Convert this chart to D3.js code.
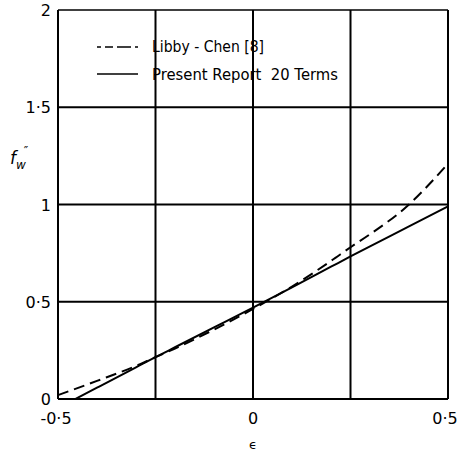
<!DOCTYPE html>
<html><head><meta charset="utf-8">
<script src="https://cdn.jsdelivr.net/npm/d3@7"></script>
<style>body{margin:0;background:#fff}svg{display:block}</style>
</head><body>
<script>
const xTicks = [-0.5, -0.25, 0, 0.25, 0.5];
const yTicks = [0, 0.5, 1, 1.5, 2];
const xTickLabels = ["-0·5", "", "0", "", "0·5"];
const yTickLabels = ["0", "0·5", "1", "1·5", "2"];
const presentEps = [-0.455, -0.4, -0.3, -0.25, -0.2, -0.1, 0, 0.1, 0.2, 0.25, 0.3, 0.4, 0.5];
const presentVal = [0, 0.058, 0.163, 0.215, 0.266, 0.368, 0.47, 0.574, 0.68, 0.733, 0.785, 0.887, 0.99];
const libbyEps = [-0.5, -0.4, -0.3, -0.25, -0.2, -0.1, 0, 0.1, 0.2, 0.25, 0.3, 0.4, 0.45, 0.5];
const libbyVal = [0.02, 0.093, 0.17, 0.215, 0.259, 0.357, 0.463, 0.578, 0.71, 0.78, 0.847, 1.0, 1.1, 1.21];
const legendLabels = ["Libby - Chen [8]", "Present Report  20 Terms"];

const W = 457, H = 454;
const svg = d3.select("body").append("svg").attr("width", W).attr("height", H);
const x = d3.scaleLinear().domain([-0.5, 0.5]).range([58, 448]);
const y = d3.scaleLinear().domain([0, 2]).range([399, 10]);
const font = "'DejaVu Sans', sans-serif";

// grid
const g = svg.append("g");
xTicks.forEach(t => g.append("line").attr("x1", x(t)).attr("x2", x(t)).attr("y1", y(0)).attr("y2", y(2))
  .attr("stroke", "#000").attr("stroke-width", 2));
yTicks.forEach(t => g.append("line").attr("x1", x(-0.5)).attr("x2", x(0.5)).attr("y1", y(t)).attr("y2", y(t))
  .attr("stroke", "#000").attr("stroke-width", t === 2 ? 1.5 : 2));

// tick labels
yTicks.forEach((t, i) => svg.append("text").attr("x", 51).attr("y", y(t) + 6)
  .attr("text-anchor", "end").attr("font-family", font).attr("font-size", 16).text(yTickLabels[i]));
xTicks.forEach((t, i) => {
  if (!xTickLabels[i]) return;
  let xx = x(t); if (t === -0.5) xx -= 2; if (t === 0.5) xx -= 3;
  svg.append("text").attr("x", xx).attr("y", 424).attr("text-anchor", "middle")
    .attr("font-family", font).attr("font-size", 16).text(xTickLabels[i]);
});
svg.append("text").attr("x", 253).attr("y", 449).attr("text-anchor", "middle")
  .attr("font-family", font).attr("font-size", 13).text("ϵ");
const yl = svg.append("text").attr("x", 10).attr("y", 164).attr("font-family", font).attr("font-size", 17).attr("font-style", "italic");
yl.append("tspan").text("f");
yl.append("tspan").attr("dy", 5).attr("dx", 0).attr("font-size", 12).text("w");
yl.append("tspan").attr("dy", -14).attr("dx", -2).attr("font-size", 12).attr("font-style", "normal").text("″");

// lines
const line = d3.line().x(d => x(d[0])).y(d => y(d[1])).curve(d3.curveMonotoneX);
svg.append("path").datum(presentEps.map((e, i) => [e, presentVal[i]])).attr("d", line)
  .attr("fill", "none").attr("stroke", "#000").attr("stroke-width", 2);
svg.append("path").datum(libbyEps.map((e, i) => [e, libbyVal[i]])).attr("d", line)
  .attr("fill", "none").attr("stroke", "#000").attr("stroke-width", 2).attr("stroke-dasharray", "11,6");

// legend
svg.append("line").attr("x1", 97).attr("x2", 138).attr("y1", 47).attr("y2", 47)
  .attr("stroke", "#000").attr("stroke-width", 1.5).attr("stroke-dasharray", "4,4,8,4,10,0");
svg.append("line").attr("x1", 97).attr("x2", 138).attr("y1", 74).attr("y2", 74)
  .attr("stroke", "#000").attr("stroke-width", 1.5);
svg.append("text").attr("x", 152).attr("y", 52).attr("font-family", font).attr("font-size", 15)
  .attr("textLength", 112).attr("lengthAdjust", "spacingAndGlyphs").text(legendLabels[0]);
svg.append("text").attr("x", 152).attr("y", 80).attr("font-family", font).attr("font-size", 15)
  .attr("textLength", 186).attr("lengthAdjust", "spacingAndGlyphs").attr("xml:space", "preserve").text(legendLabels[1]);
</script>
</body></html>
